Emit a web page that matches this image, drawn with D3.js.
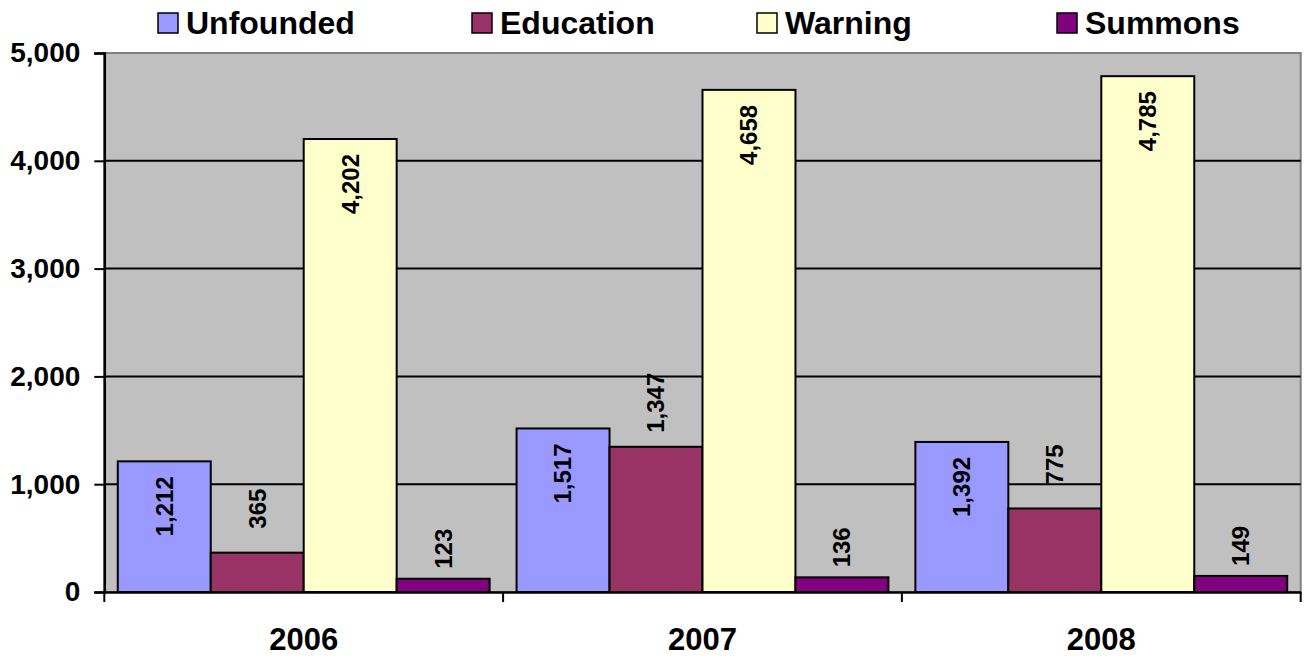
<!DOCTYPE html>
<html>
<head>
<meta charset="utf-8">
<script src="https://cdn.jsdelivr.net/npm/d3@7"></script>
<style>
  body { margin: 0; background: #fff; }
  text { font-family: "Liberation Sans", Arial, sans-serif; font-weight: bold; }
</style>
</head>
<body>
<svg width="1305" height="663"></svg>
<script>
// Data
var years = ['2006', '2007', '2008'];
var series = ['Unfounded', 'Education', 'Warning', 'Summons'];
var colors = ['#9999FF', '#993366', '#FFFFCC', '#800080'];
var unfounded = [1212, 1517, 1392];
var education = [365, 1347, 775];
var warning = [4202, 4658, 4785];
var summons = [123, 136, 149];
var yTicks = [0, 1000, 2000, 3000, 4000, 5000];

var values = [unfounded, education, warning, summons];
var table = [];
years.forEach(function(yr, i) {
  series.forEach(function(s, j) {
    table.push({year: yr, series: s, idx: j, value: values[j][i]});
  });
});

// Layout
var plotLeft = 104.3, plotRight = 1300.7, plotTop = 53, plotBottom = 592;
var fmt = d3.format(',');
var svg = d3.select('svg');

var x0 = d3.scaleBand().domain(years).range([plotLeft, plotRight]);
var x1 = d3.scaleBand().domain(series).range([0, x0.bandwidth()])
  .paddingInner(0).paddingOuter(0.145);
var y = d3.scaleLinear().domain([0, 5000]).range([plotBottom, plotTop]);

// plot background
svg.append('rect')
  .attr('x', plotLeft).attr('y', plotTop)
  .attr('width', plotRight - plotLeft).attr('height', plotBottom - plotTop)
  .attr('fill', '#C0C0C0')
  .attr('stroke', '#808080').attr('stroke-width', 2);

// gridlines
svg.append('g').selectAll('line')
  .data(yTicks.filter(d => d > 0 && d < 5000)).enter().append('line')
  .attr('x1', plotLeft).attr('x2', plotRight)
  .attr('y1', d => y(d)).attr('y2', d => y(d))
  .attr('stroke', '#000').attr('stroke-width', 2);

// bars
svg.append('g').selectAll('rect')
  .data(table).enter().append('rect')
  .attr('x', d => x0(d.year) + x1(d.series))
  .attr('y', d => y(d.value))
  .attr('width', x1.bandwidth())
  .attr('height', d => y(0) - y(d.value))
  .attr('fill', d => colors[d.idx])
  .attr('stroke', '#000').attr('stroke-width', 2);

// y axis
var yAxis = svg.append('g')
  .attr('transform', 'translate(' + plotLeft + ',0)')
  .call(d3.axisLeft(y).tickValues(yTicks).tickFormat(fmt).tickSize(10).tickPadding(14));
yAxis.select('.domain').attr('stroke', '#000').attr('stroke-width', 2.5);
yAxis.selectAll('.tick line').attr('stroke', '#000').attr('stroke-width', 2);
yAxis.selectAll('.tick text')
  .attr('font-size', '28px').attr('font-family', '"Liberation Sans", Arial, sans-serif')
  .attr('font-weight', 'bold').attr('fill', '#000');

// x axis
var xAxis = svg.append('g')
  .attr('transform', 'translate(0,' + plotBottom + ')')
  .call(d3.axisBottom(x0).tickSize(0).tickPadding(36));
xAxis.select('.domain').attr('stroke', '#000').attr('stroke-width', 2.5);
xAxis.selectAll('.tick text')
  .attr('font-size', '31px').attr('font-family', '"Liberation Sans", Arial, sans-serif')
  .attr('font-weight', 'bold').attr('fill', '#000');
// category separator ticks
xAxis.append('g').selectAll('line')
  .data(years.map(d => x0(d)).concat([plotRight])).enter().append('line')
  .attr('x1', d => d).attr('x2', d => d)
  .attr('y1', 0).attr('y2', 10)
  .attr('stroke', '#000').attr('stroke-width', 2);

// data labels (rotated)
var labelPos = function(d) {
  var t = y(d.value);
  if (d.idx === 0 || d.idx === 2) return t + 45;
  if (d.idx === 1) return t - 44;
  return t - 30;
};
svg.append('g').selectAll('text')
  .data(table).enter().append('text')
  .attr('transform', d => 'translate(' + (x0(d.year) + x1(d.series) + x1.bandwidth() / 2) +
        ',' + labelPos(d) + ') rotate(-90)')
  .attr('text-anchor', 'middle')
  .attr('dy', '0.35em')
  .attr('font-size', '24px')
  .attr('fill', '#000')
  .text(d => fmt(d.value));

// legend
var legendX = [158, 472, 757, 1057];
var legend = svg.append('g').selectAll('g')
  .data(series).enter().append('g')
  .attr('transform', (d, i) => 'translate(' + legendX[i] + ',13)');
legend.append('rect')
  .attr('width', 20).attr('height', 20)
  .attr('fill', (d, i) => colors[i])
  .attr('stroke', '#000').attr('stroke-width', 1.5);
legend.append('text')
  .attr('x', 28).attr('y', 21)
  .attr('font-size', '32px')
  .attr('fill', '#000')
  .text(d => d);
</script>
</body>
</html>
